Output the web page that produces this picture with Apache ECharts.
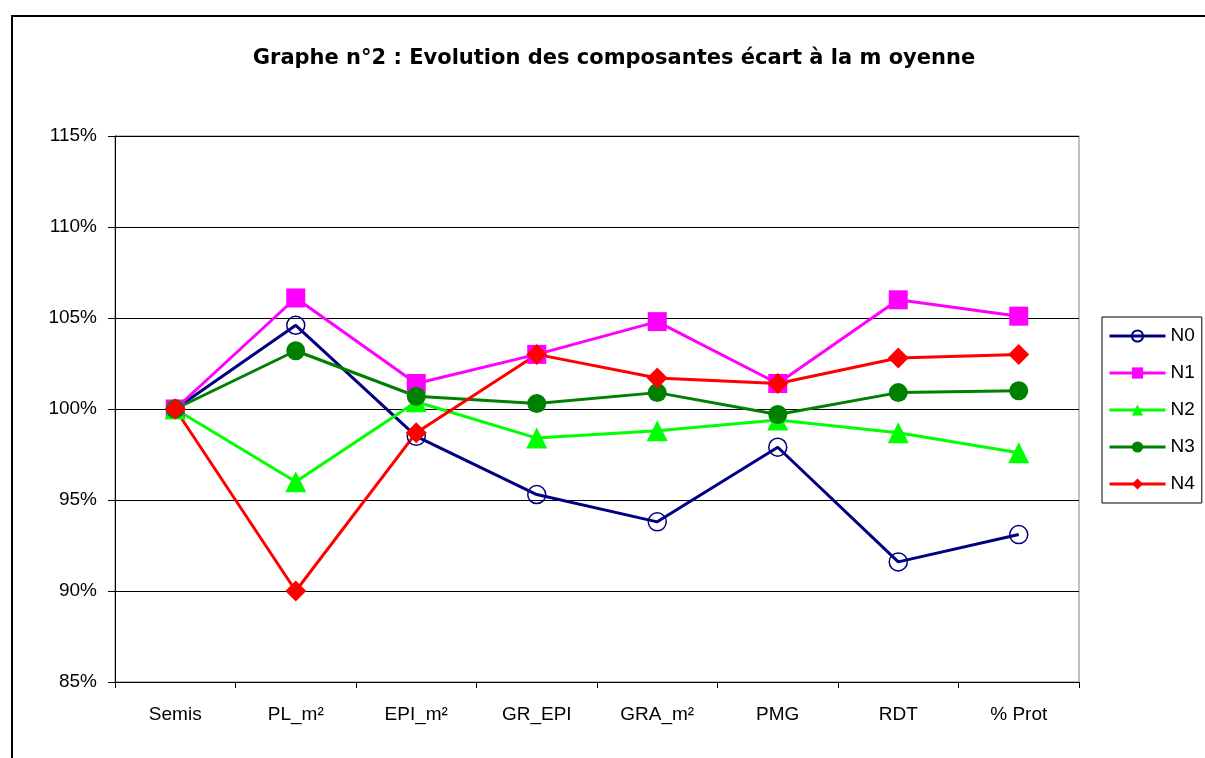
<!DOCTYPE html>
<html>
<head>
<meta charset="utf-8">
<script src="https://cdn.jsdelivr.net/npm/echarts@6/dist/echarts.min.js"></script>
<style>
  html, body { margin: 0; padding: 0; background: #fff; }
  #chart { width: 1205px; height: 758px; }
</style>
</head>
<body>
<div id="chart"></div>
<script>
// categories + values (percent of mean)
const categories = ['Semis', 'PL_m²', 'EPI_m²', 'GR_EPI', 'GRA_m²', 'PMG', 'RDT', '% Prot']
const n0 = [100, 104.6, 98.5, 95.3, 93.8, 97.9, 91.6, 93.1]
const n1 = [100, 106.1, 101.4, 103.0, 104.8, 101.4, 106.0, 105.1]
const n2 = [100, 96.0, 100.4, 98.4, 98.8, 99.4, 98.7, 97.6]
const n3 = [100, 103.2, 100.7, 100.3, 100.9, 99.7, 100.9, 101.0]
const n4 = [100, 90.0, 98.7, 103.0, 101.7, 101.4, 102.8, 103.0]
const yTicks = [85, 90, 95, 100, 105, 110, 115]

const FONT = 'Liberation Sans, Arial, sans-serif'

const mkSeries = (name, data, color, symbol, size, hollow) => ({
  name,
  type: 'line',
  data,
  symbol,
  symbolSize: size,
  lineStyle: { width: 3, color },
  itemStyle: hollow
    ? { color: 'rgba(255,255,255,0)', borderColor: color, borderWidth: 1.5 }
    : { color },
  emphasis: { disabled: true },
  z: 2,
})

const chart = echarts.init(document.getElementById('chart'))
chart.setOption({
  animation: false,
  backgroundColor: '#fff',
  textStyle: { fontFamily: FONT },
  graphic: [
    {
      type: 'rect',
      shape: { x: 12, y: 16, width: 1300, height: 800 },
      style: { fill: 'none', stroke: '#000', lineWidth: 2 },
      silent: true,
    },
    {
      // chart title
      type: 'text',
      x: 614,
      y: 59,
      silent: true,
      style: {
        text: 'Graphe n°2 : Evolution des composantes écart à la m oyenne',
        align: 'center',
        verticalAlign: 'middle',
        fill: '#000',
        font: 'bold 21px "DejaVu Sans", sans-serif',
      },
    },
  ],
  legend: {
    orient: 'vertical',
    left: 1102,
    top: 317,
    width: 98,
    padding: [9, 7, 9, 6],
    borderColor: '#000',
    borderWidth: 1,
    itemWidth: 56,
    itemHeight: 14,
    itemGap: 17,
    lineStyle: { width: 3 },
    textStyle: { fontFamily: FONT, fontSize: 19, lineHeight: 20, color: '#000' },
    data: ['N0', 'N1', 'N2', 'N3', 'N4'],
  },
  grid: { left: 115, right: 126, top: 136, bottom: 76, show: true, borderColor: '#808080', borderWidth: 1 },
  xAxis: {
    type: 'category',
    data: categories,
    boundaryGap: true,
    axisLine: { lineStyle: { color: '#000', width: 1 } },
    axisTick: { show: true, length: 6, lineStyle: { color: '#000' } },
    axisLabel: { color: '#000', fontSize: 19, margin: 23, fontFamily: FONT },
  },
  yAxis: {
    type: 'value',
    min: yTicks[0],
    max: yTicks[yTicks.length - 1],
    interval: 5,
    axisLine: { show: true, lineStyle: { color: '#000', width: 1 } },
    axisTick: { show: true, length: 7, lineStyle: { color: '#000' } },
    axisLabel: { color: '#000', fontSize: 19, margin: 18, fontFamily: FONT, formatter: v => v + '%' },
    splitLine: { show: true, lineStyle: { color: '#000', width: 1 } },
  },
  series: [
    mkSeries('N0', n0, '#000080', 'circle', 18, true),
    mkSeries('N1', n1, '#FF00FF', 'rect', 19, false),
    mkSeries('N2', n2, '#00FF00', 'triangle', 21, false),
    mkSeries('N3', n3, '#008000', 'circle', 19, false),
    mkSeries('N4', n4, '#FF0000', 'diamond', 21, false),
  ],
})
</script>
</body>
</html>
